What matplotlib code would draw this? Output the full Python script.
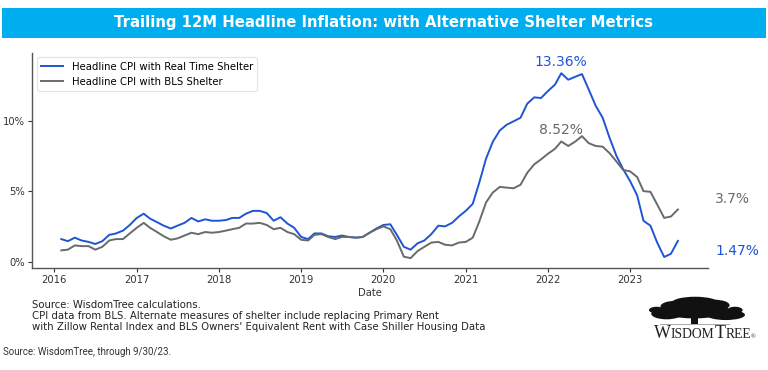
"""Trailing 12M headline inflation with alternative shelter metrics."""
import matplotlib
matplotlib.use("Agg")
import matplotlib.pyplot as plt
import matplotlib.dates as mdates
from matplotlib.patches import Rectangle, Ellipse
import pandas as pd

# monthly, Feb 2016 .. Aug 2023
dates = pd.date_range("2016-02-01", periods=91, freq="MS")

real_time_shelter = [
    1.6, 1.45, 1.7, 1.5, 1.4, 1.25, 1.45, 1.9, 2.0, 2.2, 2.6,
    3.1, 3.4, 3.05, 2.8, 2.55, 2.35, 2.55, 2.75, 3.1, 2.85, 3.0, 2.9,
    2.9, 2.95, 3.1, 3.1, 3.4, 3.6, 3.6, 3.45, 2.9, 3.15, 2.7, 2.4,
    1.75, 1.6, 2.0, 2.0, 1.8, 1.75, 1.85, 1.75, 1.7, 1.75, 2.05, 2.35,
    2.6, 2.65, 1.9, 1.05, 0.85, 1.3, 1.5, 1.95, 2.55, 2.5, 2.75, 3.2,
    3.6, 4.1, 5.55, 7.3, 8.5, 9.3, 9.7, 9.95, 10.2, 11.2, 11.65, 11.6,
    12.1, 12.55, 13.36, 12.9, 13.1, 13.3, 12.2, 11.05, 10.2, 8.8, 7.5, 6.55,
    5.7, 4.7, 2.9, 2.55, 1.35, 0.33, 0.56, 1.47,
]
bls_shelter = [
    0.8, 0.85, 1.15, 1.1, 1.1, 0.85, 1.05, 1.5, 1.6, 1.6, 2.0,
    2.4, 2.75, 2.4, 2.1, 1.8, 1.55, 1.65, 1.85, 2.05, 1.95, 2.1, 2.05,
    2.1, 2.2, 2.3, 2.4, 2.7, 2.7, 2.75, 2.6, 2.3, 2.4, 2.1, 1.95,
    1.55, 1.5, 1.9, 1.95, 1.75, 1.6, 1.75, 1.75, 1.7, 1.75, 2.05, 2.3,
    2.5, 2.3, 1.5, 0.35, 0.25, 0.75, 1.05, 1.35, 1.4, 1.2, 1.15, 1.35,
    1.4, 1.7, 2.8, 4.2, 4.9, 5.3, 5.25, 5.2, 5.45, 6.3, 6.9, 7.25,
    7.65, 8.0, 8.52, 8.2, 8.5, 8.9, 8.4, 8.2, 8.15, 7.7, 7.1, 6.5,
    6.4, 6.0, 5.0, 4.95, 4.05, 3.1, 3.2, 3.7,
]
series_names = ["Headline CPI with Real Time Shelter", "Headline CPI with BLS Shelter"]
peak_date = pd.Timestamp("2022-03-01")

BLUE = "#1f55d4"
GRAY = "#666b6b"
BANNER = "#00aeef"

fig = plt.figure(figsize=(7.68, 3.70), dpi=100)
ax = fig.add_axes([0.0417, 0.2757, 0.8803, 0.5813])

ax.plot(dates, real_time_shelter, color=BLUE, lw=1.4, label=series_names[0])
ax.plot(dates, bls_shelter, color=GRAY, lw=1.4, label=series_names[1])

ax.set_xlim(pd.Timestamp("2015-09-24"), pd.Timestamp("2023-12-13"))
ax.set_ylim(-0.45, 14.8)
ax.set_yticks([0, 5, 10])
ax.set_yticklabels(["0%", "5%", "10%"])
ax.xaxis.set_major_locator(mdates.YearLocator())
ax.xaxis.set_major_formatter(mdates.DateFormatter("%Y"))
ax.tick_params(labelsize=7.2, length=3, width=0.8, colors="#333333", pad=2)
for s in ["top", "right"]:
    ax.spines[s].set_visible(False)
for s in ["left", "bottom"]:
    ax.spines[s].set_color("#555555")
    ax.spines[s].set_linewidth(1.0)
ax.set_xlabel("Date", fontsize=7.2, color="#333333", labelpad=2)

leg = ax.legend(loc="upper left", fontsize=7.3, frameon=True, borderaxespad=0.45,
                handlelength=2.2, borderpad=0.45, labelspacing=0.45)
leg.get_frame().set_edgecolor("#dddddd")
leg.get_frame().set_linewidth(0.8)

# value labels
i_peak = list(dates).index(peak_date)
ax.annotate(f"{real_time_shelter[i_peak]:.2f}%", (peak_date, real_time_shelter[i_peak]),
            xytext=(0, 3), textcoords="offset points", ha="center", va="bottom",
            fontsize=10, color=BLUE)
ax.annotate(f"{bls_shelter[i_peak]:.2f}%", (peak_date, bls_shelter[i_peak]),
            xytext=(0, 3), textcoords="offset points", ha="center", va="bottom",
            fontsize=10, color=GRAY)
ax.annotate(f"{bls_shelter[-1]:.1f}%", (dates[-1], bls_shelter[-1]),
            xytext=(27, 7.8), textcoords="offset points", ha="left", va="center",
            fontsize=10, color=GRAY, annotation_clip=False)
ax.annotate(f"{real_time_shelter[-1]:.2f}%", (dates[-1], real_time_shelter[-1]),
            xytext=(27, -7.2), textcoords="offset points", ha="left", va="center",
            fontsize=10, color=BLUE, annotation_clip=False)

# title banner
fig.patches.append(Rectangle((0.003, 0.897), 0.994, 0.081, transform=fig.transFigure,
                             facecolor=BANNER, edgecolor="none"))
fig.text(0.5, 0.938, "Trailing 12M Headline Inflation: with Alternative Shelter Metrics",
         ha="center", va="center", color="white", fontsize=10.7, fontweight="bold")

# footnotes
fig.text(0.042, 0.189,
         "Source: WisdomTree calculations.\n"
         "CPI data from BLS. Alternate measures of shelter include replacing Primary Rent\n"
         "with Zillow Rental Index and BLS Owners' Equivalent Rent with Case Shiller Housing Data",
         ha="left", va="top", fontsize=7.25, color="#222222", linespacing=1.1)
fig.text(0.004, 0.049, "Source: WisdomTree, through 9/30/23.", ha="left", va="center",
         fontsize=7.0, family="Roboto", color="#333333")

# logo: tree
blobs = [(0.904, 0.162, 0.09, 0.045), (0.868, 0.152, 0.04, 0.03), (0.945, 0.149, 0.05, 0.028),
         (0.905, 0.182, 0.06, 0.032), (0.88, 0.172, 0.04, 0.03), (0.93, 0.175, 0.04, 0.03),
         (0.855, 0.162, 0.02, 0.018), (0.957, 0.162, 0.02, 0.018)]
for cx, cy, w, h in blobs:
    fig.patches.append(Ellipse((cx, cy), w, h, transform=fig.transFigure,
                               facecolor="#111111", edgecolor="none"))
fig.patches.append(Rectangle((0.9, 0.125), 0.009, 0.03, transform=fig.transFigure,
                             facecolor="#111111", edgecolor="none"))
fig.patches.append(Rectangle((0.86, 0.121), 0.09, 0.004, transform=fig.transFigure,
                             facecolor="#aaaaaa", edgecolor="none"))

# logo: small-caps wordmark
renderer = fig.canvas.get_renderer()
x = 654 / 768
for piece, size in [("W", 13), ("ISDOM", 9.8), ("T", 13), ("REE", 9.8), ("®", 4.5)]:
    t = fig.text(x, 0.086, piece, ha="left", va="baseline", fontsize=size,
                 family="Liberation Serif", color="#222222")
    bb = t.get_window_extent(renderer)
    x += bb.width / fig.bbox.width

fig.savefig("out.png", dpi=100)
